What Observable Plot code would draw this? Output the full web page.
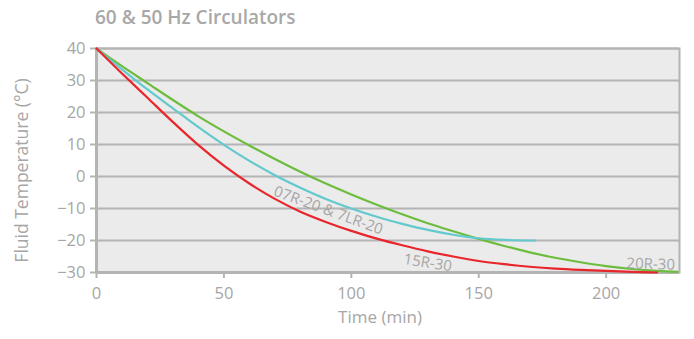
<!DOCTYPE html>
<html>
<head>
<meta charset="utf-8">
<script src="https://cdn.jsdelivr.net/npm/d3@7"></script>
<script src="https://cdn.jsdelivr.net/npm/@observablehq/plot@0.6"></script>
<style>
  body { margin: 0; background: #fff; font-family: "Open Sans", sans-serif; }
  #title { height: 36px; box-sizing: border-box; padding: 5px 0 0 95px; font-size: 19px; font-weight: 600; color: #a8a8a8; line-height: 24px; }
  #chart svg { display: block; }
</style>
</head>
<body>
<div id="title">60 &amp; 50 Hz Circulators</div>
<div id="chart"></div>
<script>
const title = "60 & 50 Hz Circulators";
const xLabel = "Time (min)";
const yLabel = "Fluid Temperature (°C)";
const xTicks = [0, 50, 100, 150, 200];
const yTicks = [-30, -20, -10, 0, 10, 20, 30, 40];

const red15Time = [0,10,20,30,40,50,60,70,80,90,100,110,120,130,140,150,160,170,180,190,200,210,220];
const red15Temp = [40,32.2,24.6,17,9.8,3.4,-2.2,-7,-11,-14.2,-17,-19.4,-21.5,-23.4,-25,-26.4,-27.4,-28.2,-28.8,-29.2,-29.5,-29.8,-30];

const green20Time = [0,10,20,30,40,50,60,70,80,90,100,110,120,130,140,150,160,170,180,190,200,210,220,228];
const green20Temp = [40,34.5,29.2,23.9,18.8,14.1,9.7,5.5,1.5,-2.2,-5.6,-8.8,-11.8,-14.6,-17.1,-19.5,-21.7,-23.7,-25.4,-26.8,-28,-28.9,-29.5,-29.8];

const cyan07Time = [0,10,20,30,40,50,60,70,80,90,100,110,120,130,140,150,160,172];
const cyan07Temp = [40,33.5,27.2,21.3,15.4,9.9,4.9,0.4,-3.5,-7,-10,-12.6,-14.8,-16.7,-18.2,-19.3,-19.8,-20];

const seriesNames = ["15R-30", "20R-30", "07R-20 & 7LR-20"];
const seriesColors = ["#e8262b", "#6cbd3d", "#62c9cd"];
const labelTime = [130, 217.5, 91];
const labelTemp = [-27, -27.4, -10.6];
const labelAngle = [9, 2, 20];

const toRows = (name, ts, vs) => ts.map((t, i) => ({name, t, v: vs[i]}));
const rows = [
  ...toRows(seriesNames[1], green20Time, green20Temp),
  ...toRows(seriesNames[2], cyan07Time, cyan07Temp),
  ...toRows(seriesNames[0], red15Time, red15Temp)
];
const labels = seriesNames.map((name, i) => ({name, t: labelTime[i], v: labelTemp[i], a: labelAngle[i]}));

const grid = "#b4b4b4";
const textColor = "#a6a6a6";

const chart = Plot.plot({
  width: 694,
  height: 303,
  marginTop: 12,
  marginBottom: 67,
  marginLeft: 96,
  marginRight: 15,
  style: { fontFamily: "Open Sans, sans-serif", fontSize: "16px", color: textColor, background: "#fff", overflow: "visible" },
  x: { domain: [0, 228.8] },
  y: { domain: [-30, 40] },
  color: { domain: seriesNames, range: seriesColors },
  marks: [
    Plot.frame({ fill: "#ebebeb", stroke: grid, strokeWidth: 2 }),
    Plot.ruleY(yTicks, { stroke: grid, strokeWidth: 2 }),
    Plot.ruleX([0], { stroke: grid, strokeWidth: 3 }),
    Plot.ruleY([-30], { stroke: grid, strokeWidth: 3 }),
    Plot.axisX(xTicks, { tickSize: 6, tickPadding: 9, stroke: grid, strokeWidth: 2, fill: textColor, fontSize: 16.5, label: null }),
    Plot.axisY(yTicks, { tickSize: 6, tickPadding: 5, stroke: grid, strokeWidth: 2, fill: textColor, fontSize: 16.5, label: null }),
    Plot.line(rows, { x: "t", y: "v", z: "name", stroke: "name", strokeWidth: 2.2, curve: "monotone-x" }),
    Plot.text(labels, { x: "t", y: "v", text: "name", rotate: "a", fill: textColor, fontSize: 15 }),
    Plot.text([xLabel], { frameAnchor: "bottom", textAnchor: "middle", dy: 50, dx: -8, fill: textColor, fontSize: 17 }),
    Plot.text([yLabel], { frameAnchor: "left", textAnchor: "middle", dx: -74, dy: 10, rotate: -90, fill: textColor, fontSize: 17.5 })
  ]
});
document.getElementById("chart").appendChild(chart);
</script>
</body>
</html>
